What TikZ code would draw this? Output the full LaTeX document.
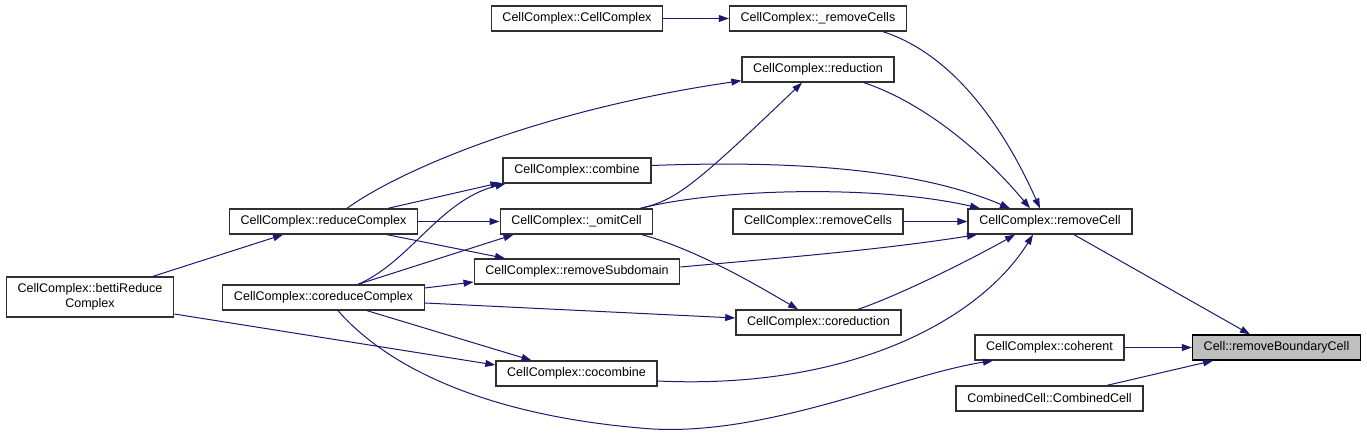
\documentclass[tikz,border=0pt]{standalone}
\usepackage{fontspec}
\setmainfont{Liberation Sans}
\usepackage{tikz}
\usetikzlibrary{arrows.meta,positioning,calc}
\definecolor{edgenavy}{RGB}{25,25,112}
\definecolor{boxgrey}{RGB}{48,48,48}
\definecolor{focusgrey}{RGB}{191,191,191}

\begin{document}
\begin{tikzpicture}[x=0.75pt,y=-0.75pt,
    fn/.style={draw=boxgrey,line width=1pt,fill=white,inner xsep=8.4pt,inner ysep=1pt,
      minimum height=18.75pt,font=\fontsize{9.4}{11}\selectfont},
    focus/.style={fn,fill=focusgrey,draw=black},
    call/.style={->,edgenavy,line width=0.75pt},
    >={Triangle[length=7.5pt,width=5.2pt]}]
    \useasboundingbox (0,0) rectangle (1367,434);

    % Callers, left column
    \node[fn,align=center,minimum height=30pt] (betti) at (90,297) {CellComplex::bettiReduce\\Complex};
    \node[fn] (redcx) at (323.5,221.5) {CellComplex::reduceComplex};
    \node[fn] (coredcx) at (323.5,297.5) {CellComplex::coreduceComplex};

    % Middle column
    \node[fn] (ctor) at (577,18.5) {CellComplex::CellComplex};
    \node[fn] (combine) at (577,170.5) {CellComplex::combine};
    \node[fn] (omit) at (576.5,221.5) {CellComplex::\_omitCell};
    \node[fn] (rmsub) at (577,271.5) {CellComplex::removeSubdomain};
    \node[fn] (cocombine) at (576.5,373.5) {CellComplex::cocombine};

    % Right of middle
    \node[fn] (rmcellsp) at (818,18.5) {CellComplex::\_removeCells};
    \node[fn] (reduction) at (818,69.5) {CellComplex::reduction};
    \node[fn] (rmcells) at (818,221.5) {CellComplex::removeCells};
    \node[fn] (coreduction) at (818.5,322.5) {CellComplex::coreduction};

    % Callees
    \node[fn] (rmcell) at (1050,221.5) {CellComplex::removeCell};
    \node[fn] (coherent) at (1049.5,347.5) {CellComplex::coherent};
    \node[fn] (combcell) at (1049.5,398.5) {CombinedCell::CombinedCell};
    \node[focus] (rmbcell) at (1276.5,347.5) {Cell::removeBoundaryCell};

    % Calls into removeBoundaryCell
    \draw[call] ($(rmcell.south)+(24,0)$) -- ($(rmbcell.north)+(-26.5,0)$);
    \draw[call] (coherent.east) -- (rmbcell.west);
    \draw[call] ($(combcell.north)+(57.5,0)$) -- ($(rmbcell.south)+(-63.5,0)$);

    % Calls into removeCell
    \draw[call] ($(rmcellsp.south)+(65,0)$) .. controls (955,55) and (1005,130) .. ($(rmcell.north)+(-10,0)$);
    \draw[call] ($(reduction.south)+(46,0)$) .. controls (930,105) and (990,160) .. ($(rmcell.north)+(-20,0)$);
    \draw[call] ($(combine.east)+(0,-5)$) .. controls (800,160) and (920,170) .. ($(rmcell.north)+(-40,0)$);
    \draw[call] ($(omit.north)+(64,0)$) .. controls (720,188) and (880,185) .. ($(rmcell.north)+(-70,0)$);
    \draw[call] (rmcells.east) -- (rmcell.west);
    \draw[call] ($(rmsub.east)+(0,-4.5)$) .. controls (780,258) and (880,250) .. ($(rmcell.south)+(-73,0)$);
    \draw[call] ($(coreduction.north)+(39.5,0)$) .. controls (900,295) and (970,260) .. ($(rmcell.south)+(-35,0)$);
    \draw[call] ($(cocombine.east)+(0,7.5)$) .. controls (850,390) and (980,320) .. ($(rmcell.south)+(-17,0)$);

    % Other calls
    \draw[call] (ctor.east) -- (rmcellsp.west);
    \draw[call] ($(omit.north)+(64,0)$) .. controls (675,200) and (690,190) .. ($(reduction.south)+(-16,0)$);
    \draw[call] ($(omit.south)+(65.5,0)$) .. controls (690,248) and (740,275) .. ($(coreduction.north)+(-20.5,0)$);
    \draw[call] ($(coredcx.south)+(14.5,0)$) .. controls (390,370) and (490,415) .. (640,428)
        .. controls (760,440) and (900,375) .. ($(coherent.south)+(-56.5,0)$);

    % reduceComplex
    \draw[call] ($(redcx.north)+(23.5,0)$) .. controls (400,170) and (540,110) .. ($(reduction.south west)+(0,-2)$);
    \draw[call] ($(redcx.north)+(64.5,0)$) -- ($(combine.south west)+(-2,-1)$);
    \draw[call] (redcx.east) -- (omit.west);
    \draw[call] ($(redcx.south)+(63.5,0)$) -- ($(rmsub.north)+(-72,0)$);

    % coreduceComplex
    \draw[call] ($(coredcx.north)+(34.5,0)$) .. controls (410,262) and (440,200) .. ($(combine.south west)+(3,0)$);
    \draw[call] ($(coredcx.north)+(34.5,0)$) -- ($(omit.south)+(-63,0)$);
    \draw[call] ($(coredcx.east)+(0,-9.5)$) -- ($(rmsub.west)+(0,10.5)$);
    \draw[call] ($(coredcx.east)+(0,5.5)$) -- ($(coreduction.west)+(0,-4.5)$);
    \draw[call] ($(coredcx.south)+(43.5,0)$) -- ($(cocombine.north)+(-45,0)$);

    % bettiReduceComplex
    \draw[call] ($(betti.north)+(63,0)$) -- ($(redcx.south)+(-40.5,0)$);
    \draw[call] ($(betti.east)+(0,17)$) -- ($(cocombine.west)+(0,-8.5)$);
\end{tikzpicture}
\end{document}
